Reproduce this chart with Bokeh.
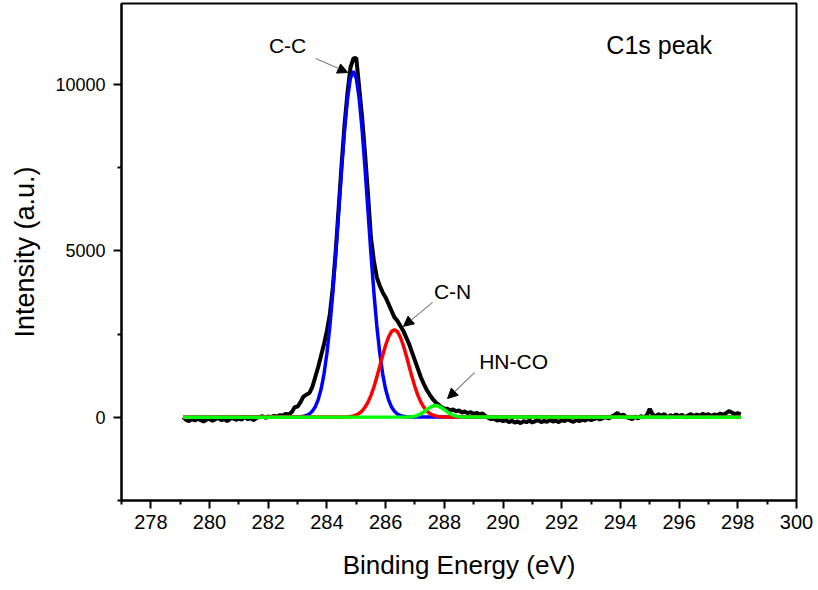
import numpy as np
from bokeh.plotting import figure
from bokeh.models import FixedTicker, Arrow, NormalHead, Label
from bokeh.embed import file_html
from bokeh.resources import INLINE

# ---------------- data ----------------
exp_start, exp_step = 279.1, 0.1
exp_intensity = [
    0, -80, -120, -60, -100, -40, -90, -130, -70, -50,
    -110, -60, -20, -90, -60, -120, -50, -30, -80, -40,
    -70, 10, -60, -30, -90, -20, 0, 30, -20, 20,
    0, 40, 20, 60, 50, 100, 80, 150, 300, 320,
    450, 620, 680, 720, 900, 1200, 1500, 1850, 2200, 2600,
    3100, 3900, 5000, 6300, 7600, 8800, 9750, 10500, 10780, 10800,
    9900, 9000, 7900, 6700, 5400, 4700, 4200, 3950, 3750, 3600,
    3400, 3200, 3000, 2900, 2750, 2600, 2400, 2200, 1950, 1700,
    1450, 1200, 1000, 820, 680, 550, 450, 380, 300, 260,
    250, 200, 230, 180, 200, 140, 170, 120, 150, 90,
    130, 80, 110, 40, -20, -60, -40, -100, -80, -120,
    -90, -150, -110, -160, -130, -180, -120, -150, -100, -160,
    -120, -90, -150, -110, -140, -80, -130, -100, -150, -90,
    -120, -60, -110, -140, -80, -120, -70, -100, -40, -90,
    -60, -20, -70, -30, 0, -40, 20, 60, 130, 40,
    80, 0, -30, -60, 20, -40, 30, -10, 60, 250,
    80, 20, 90, 40, 100, -20, 60, 20, 80, 30,
    70, -10, 50, 90, 30, 80, 40, 100, 60, 90,
    30, 80, 50, 110, 70, 120, 180, 140, 90, 120,
    80,
]
exp_energy = np.round(exp_start + exp_step * np.arange(len(exp_intensity)), 2)

cc_energy = [279.1] + [round(283.0 + 0.1 * i, 1) for i in range(39)] + [298.1]
cc_intensity = [0,
    5, 12, 25, 50, 96, 176, 308, 519, 837, 1296,
    1925, 2742, 3748, 4914, 6180, 7453, 8622, 9569, 10186, 10400,
    10186, 9569, 8622, 7453, 6180, 4914, 3748, 2742, 1925, 1296,
    837, 519, 308, 176, 96, 50, 25, 12, 5,
    0]

cn_energy = [279.1] + [round(284.6 + 0.1 * i, 1) for i in range(35)] + [298.1]
cn_intensity = [0,
    5, 10, 20, 37, 67, 115, 190, 300, 453, 656, 908, 1204, 1529, 1859, 2163, 2411, 2573,
    2630,
    2573, 2411, 2163, 1859, 1529, 1204, 908, 656, 453, 300, 190, 115, 67, 37, 20, 10, 5,
    0]

hnco_energy = [279.1] + [round(286.7 + 0.1 * i, 1) for i in range(21)] + [298.1]
hnco_intensity = [0,
    3, 7, 15, 32, 60, 103, 160, 226, 288, 333,
    350,
    333, 288, 226, 160, 103, 60, 32, 15, 7, 3,
    0]

x_ticks = [278, 280, 282, 284, 286, 288, 290, 292, 294, 296, 298, 300]
x_minor = [277, 279, 281, 283, 285, 287, 289, 291, 293, 295, 297, 299]
y_ticks = [0, 5000, 10000]
y_minor = [-2500, 2500, 7500, 12500]

# annotation positions (data coordinates)
cc_label = ("C-C", 282.66, 11170)
cc_arrow = (283.62, 10780, 284.71, 10360)
cn_label = ("C-N", 288.28, 3780)
cn_arrow = (287.60, 3450, 286.61, 2730)
hn_label = ("HN-CO", 290.36, 1680)
hn_arrow = (289.03, 1340, 288.11, 560)
title_label = ("C1s peak", 295.32, 11200)

FONT = "Liberation Sans"

p = figure(
    frame_width=675, frame_height=497,
    min_border_left=121, min_border_right=21, min_border_top=3, min_border_bottom=89,
    x_range=(277, 300), y_range=(-2505, 12435),
    output_backend="svg", toolbar_location=None,
)
p.background_fill_color = "white"
p.border_fill_color = "white"
p.grid.visible = False
p.outline_line_color = "black"
p.outline_line_width = 2
p.outline_line_alpha = 1

p.xaxis.ticker = FixedTicker(ticks=x_ticks, minor_ticks=x_minor)
p.yaxis.ticker = FixedTicker(ticks=y_ticks, minor_ticks=y_minor)

for ax in (p.xaxis[0], p.yaxis[0]):
    ax.axis_line_width = 2
    ax.axis_line_color = "black"
    ax.major_tick_line_width = 2
    ax.minor_tick_line_width = 2
    ax.major_tick_line_color = "black"
    ax.minor_tick_line_color = "black"
    ax.major_tick_in = 0
    ax.major_tick_out = 8
    ax.minor_tick_in = 0
    ax.minor_tick_out = 4
    ax.major_label_text_font = FONT
    ax.major_label_text_color = "black"
    ax.axis_label_text_font = FONT
    ax.axis_label_text_font_style = "normal"
    ax.axis_label_text_color = "black"

p.xaxis.major_label_text_font_size = "20px"
p.yaxis.major_label_text_font_size = "18px"
p.xaxis.axis_label_text_font_size = "26px"
p.yaxis.axis_label_text_font_size = "27px"
p.xaxis.major_label_standoff = 6
p.yaxis.major_label_standoff = 8
p.xaxis.axis_label = "Binding Energy (eV)"
p.yaxis.axis_label = "Intensity (a.u.)"
p.xaxis.axis_label_standoff = 18
p.yaxis.axis_label_standoff = 12

# curves
p.line(exp_energy, exp_intensity, line_color="black", line_width=4)
p.line(cc_energy, cc_intensity, line_color="#0000FF", line_width=3.5)
p.line(cn_energy, cn_intensity, line_color="#FF0000", line_width=3.5)
p.line(hnco_energy, hnco_intensity, line_color="#00FF00", line_width=3.5)

# arrows
for (x0, y0, x1, y1) in (cc_arrow, cn_arrow, hn_arrow):
    p.add_layout(Arrow(
        end=NormalHead(size=10, fill_color="black", line_color="black", line_width=1),
        x_start=x0, y_start=y0, x_end=x1, y_end=y1,
        line_color="#808080", line_width=1.2,
    ))

for (txt, x, y), size in ((cc_label, "21px"), (cn_label, "21px"), (hn_label, "21px"), (title_label, "25px")):
    p.add_layout(Label(
        x=x, y=y, text=txt, text_font=FONT, text_font_size=size,
        text_align="center", text_baseline="middle", text_color="black",
    ))

open("out.html", "w").write(file_html(p, INLINE))
